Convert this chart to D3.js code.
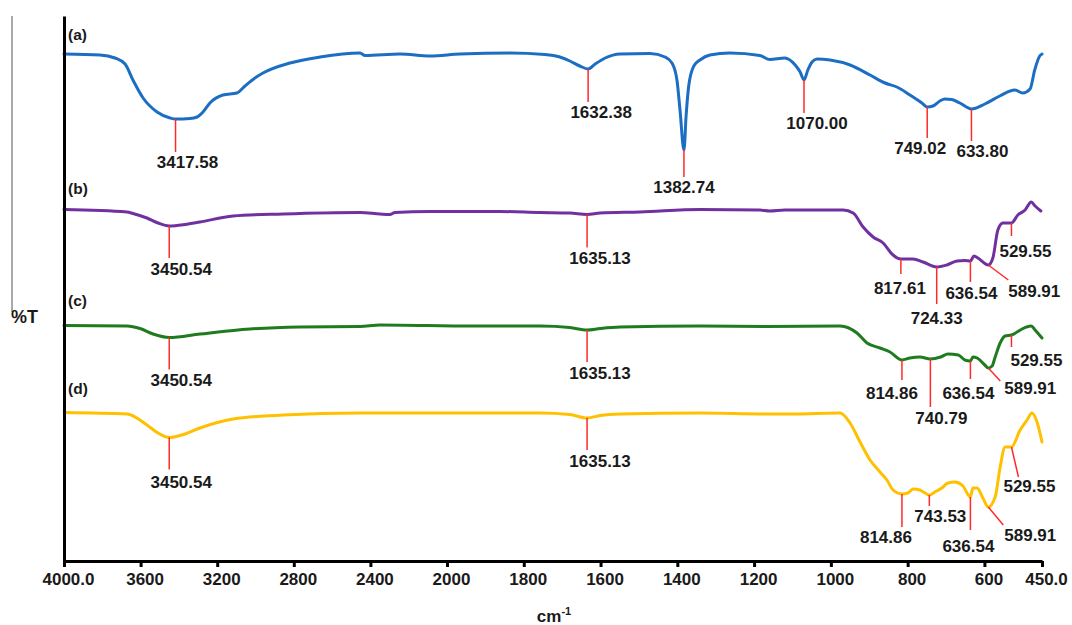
<!DOCTYPE html>
<html>
<head>
<meta charset="utf-8">
<script src="https://cdn.jsdelivr.net/npm/d3@7"></script>
<style>
  html, body { margin: 0; padding: 0; background: #fff; }
  svg { display: block; }
  text { font-family: "Liberation Sans", Arial, sans-serif; font-weight: bold; fill: #1a1a1a; }
</style>
</head>
<body>
<svg id="chart" width="1072" height="625"></svg>
<script>
// ---------------- DATA ----------------
const seriesNames = ["(a)", "(b)", "(c)", "(d)"];
const seriesColors = ["#1B6EC2", "#7030A0", "#1E7B1E", "#FFC000"];

// wavenumber (cm-1) and %T (offset, stacked) pairs
const wavenumbersA = [4000,3812,3734,3681,3640,3587,3514,3446,3417.58,3342,3305,3274,3238,3170,3097,3055,3003,2961,2820,2663,2454,2428,2245,2089,1966,1836,1745,1706,1680,1654,1632.38,1614,1588,1549,1471,1432,1414,1401,1393,1382.74,1377,1370,1357,1341,1315,1263,1185,1159,1120,1093,1080,1070,1060,1049,1036,1002,950,898,859,828,794,763,749.02,734,716,703,685,664,633.8,599,560,521,500,481,469,456,450];
const transA = [101.4,101.2,100.6,99.4,96.2,92.6,89.8,88.6,88.4,88.5,88.8,89.8,91.6,93.2,93.6,95.0,96.6,97.6,99.6,100.8,101.6,101.1,101.4,101.0,101.4,101.6,101.3,100.8,100.0,99.0,98.4,99.4,100.6,101.4,101.5,100.8,99.6,96.2,90.2,82.2,89.2,95.2,99.0,100.2,101.2,101.6,101.1,100.3,100.6,99.2,97.8,96.2,98.2,99.8,100.4,100.2,99.2,97.2,95.6,94.8,93.2,91.6,90.8,91.0,92.0,92.4,92.3,91.6,90.4,91.4,93.0,94.2,93.6,94.4,98.2,101.0,101.4];

const wavenumbersB = [4000,3671,3640,3567,3509,3450.54,3368,3290,3117,2856,2454,2350,2298,2272,2089,1862,1758,1680,1635.13,1601,1497,1341,1185,1159,1120,968,942,916,890,864,838,817.61,786,760,724.33,698,671,651,636.54,627,617,589.91,578,565,552,529.55,513,494,478,468,453];
const transB = [70.3,69.8,69.5,68.6,67.6,67.0,67.3,67.8,69.0,69.4,69.7,69.4,69.3,69.7,69.9,69.9,69.7,69.6,69.3,69.6,69.8,70.3,70.2,70.0,70.2,70.2,69.6,66.8,64.8,63.6,61.2,60.4,60.4,59.8,58.8,59.2,60.0,60.1,60.0,61.0,60.6,59.2,60.6,66.2,67.6,67.6,69.2,70.2,71.8,71.0,70.0];

const wavenumbersC = [4000,3671,3603,3535,3450.54,3290,3029,2768,2454,2350,1932,1758,1680,1635.13,1601,1549,1341,1166,976,932,906,872,846,814.86,794,768,740.79,714,695,668,651,636.54,630,619,599,589.91,580,572,559,546,529.55,515,502,478,468,450];
const transC = [47.1,47.0,46.5,45.4,44.7,45.4,46.4,46.8,46.9,47.2,47.0,47.0,46.7,46.2,46.5,46.8,47.0,46.9,47.0,45.6,43.6,42.6,41.8,40.2,40.6,40.8,40.4,40.8,41.4,41.2,40.2,40.0,40.8,40.6,39.2,38.6,39.0,40.8,43.6,45.0,45.2,45.8,46.4,47.0,46.2,44.6];

const wavenumbersD = [4000,3671,3567,3509,3450.54,3368,3290,3117,2856,2454,1932,1758,1680,1635.13,1601,1549,1341,1166,1099,976,950,924,898,872,854,838,814.86,799,786,768,743.53,729,711,695,677,656,636.54,630,619,604,589.91,572,559,546,529.55,507,489,476,463,450];
const transD = [29.7,29.4,27.2,25.6,24.7,25.4,26.6,28.4,29.2,29.6,29.6,29.6,29.3,28.6,29.1,29.4,29.6,29.4,29.4,29.6,27.6,23.8,20.2,17.8,16.2,14.2,13.4,13.6,14.4,14.2,13.2,13.8,14.6,15.6,15.8,15.0,12.8,14.6,14.6,12.6,10.8,12.8,18.8,22.8,22.8,26.2,28.2,29.6,27.8,23.8];

// labelled peaks (cm-1)
const peaksA = [3417.58, 1632.38, 1382.74, 1070.00, 749.02, 633.80];
const peaksB = [3450.54, 1635.13, 817.61, 724.33, 636.54, 589.91, 529.55];
const peaksC = [3450.54, 1635.13, 814.86, 740.79, 636.54, 589.91, 529.55];
const peaksD = [3450.54, 1635.13, 814.86, 743.53, 636.54, 589.91, 529.55];

const xTickValues = [4000, 3600, 3200, 2800, 2400, 2000, 1800, 1600, 1400, 1200, 1000, 800, 600, 450];
const xTickLabels = ["4000.0","3600","3200","2800","2400","2000","1800","1600","1400","1200","1000","800","600","450.0"];
const yAxisLabel = "%T";
const xAxisLabel = "cm";
const xAxisLabelSup = "-1";

// ---------------- LAYOUT (annotation offsets, px) ----------------
// [lineEndDx, lineEndDy, labelDx, labelCenterDy] relative to the peak point on the curve
const peakLayoutA = [[0,33,12,43],[0,33,13,43],[0,27,0,37],[0,33,13,43],[0,31,-7,41],[0,32,11,42]];
const peakLayoutB = [[0,32,12,43],[0,33,13,43],[0,15,-1,29],[0,37,0,51],[0,21,1,32],[20,15,46,26],[0,13,14,28]];
const peakLayoutC = [[0,32,12,42],[0,32,13,43],[0,20,-10,33],[0,48,11,59],[0,18,-2,32],[12,13,42,20],[0,12,25,25]];
const peakLayoutD = [[0,32,12,44],[0,32,13,43],[0,33,-16,43],[0,11,11,21],[0,33,-2,49],[15,18,42,28],[7,30,18,39]];
const seriesLabelDy = [-14, -16, -20, -19];

// ---------------- CHART ----------------
const svg = d3.select("#chart");
const x = d3.scaleLinear().domain([4000, 2000, 450]).range([64, 447, 1042]);
const y = d3.scaleLinear().domain([0, 109]).range([561, 16]);

const series = [
  {w: wavenumbersA, t: transA, peaks: peaksA, layout: peakLayoutA},
  {w: wavenumbersB, t: transB, peaks: peaksB, layout: peakLayoutB},
  {w: wavenumbersC, t: transC, peaks: peaksC, layout: peakLayoutC},
  {w: wavenumbersD, t: transD, peaks: peaksD, layout: peakLayoutD}
];

function interp(ws, ts, w) {
  for (let i = 0; i < ws.length - 1; i++) {
    const a = ws[i], b = ws[i + 1];
    if ((w <= a && w >= b)) {
      const f = a === b ? 0 : (a - w) / (a - b);
      return ts[i] + f * (ts[i + 1] - ts[i]);
    }
  }
  return ts[ts.length - 1];
}

const line = d3.line()
  .x(d => x(d[0]))
  .y(d => y(d[1]))
  .curve(d3.curveMonotoneX);

// gray line at far left
svg.append("line")
  .attr("x1", 12).attr("x2", 12).attr("y1", 16).attr("y2", 312)
  .attr("stroke", "#8c8c8c").attr("stroke-width", 1.5);

svg.append("text")
  .attr("x", 11).attr("y", 323)
  .attr("font-size", 18)
  .text(yAxisLabel);

series.forEach((s, i) => {
  const pts = s.w.map((w, j) => [w, s.t[j]]);
  svg.append("path")
    .datum(pts)
    .attr("d", line)
    .attr("fill", "none")
    .attr("stroke", seriesColors[i])
    .attr("stroke-width", 3)
    .attr("stroke-linejoin", "round")
    .attr("stroke-linecap", "round");

  svg.append("text")
    .attr("x", 68)
    .attr("y", y(s.t[0]) + seriesLabelDy[i])
    .attr("font-size", 15.5)
    .text(seriesNames[i]);

  s.peaks.forEach((p, k) => {
    const L = s.layout[k];
    const px = x(p), py = y(interp(s.w, s.t, p));
    svg.append("line")
      .attr("x1", px).attr("y1", py)
      .attr("x2", px + L[0]).attr("y2", py + L[1])
      .attr("stroke", "#FF2A2A").attr("stroke-width", 1.5);
    svg.append("text")
      .attr("x", px + L[2])
      .attr("y", py + L[3] + 6)
      .attr("text-anchor", "middle")
      .attr("font-size", 17)
      .text(p.toFixed(2));
  });
});

// axes
const xAxis = d3.axisBottom(x)
  .tickValues(xTickValues)
  .tickFormat((d, i) => xTickLabels[i])
  .tickSize(6)
  .tickSizeOuter(0);
const gx = svg.append("g").attr("transform", "translate(0,561)").call(xAxis);
gx.select(".domain").attr("stroke", "#000").attr("stroke-width", 3);
gx.selectAll(".tick line").attr("stroke", "#000").attr("stroke-width", 3);
gx.selectAll(".tick text")
  .attr("font-size", 17)
  .attr("font-family", "'Liberation Sans', Arial, sans-serif")
  .attr("font-weight", "bold")
  .attr("fill", "#1a1a1a")
  .attr("dx", 4)
  .attr("y", 12);

const yAxis = d3.axisLeft(y).tickValues([]).tickSizeOuter(0);
const gy = svg.append("g").attr("transform", "translate(64,0)").call(yAxis);
gy.select(".domain").attr("stroke", "#000").attr("stroke-width", 3);

// x axis title
const xt = svg.append("text")
  .attr("x", 554).attr("y", 622)
  .attr("text-anchor", "middle")
  .attr("font-size", 17);
xt.append("tspan").text(xAxisLabel);
xt.append("tspan").attr("font-size", 11).attr("dy", -7).text(xAxisLabelSup);
</script>
</body>
</html>
